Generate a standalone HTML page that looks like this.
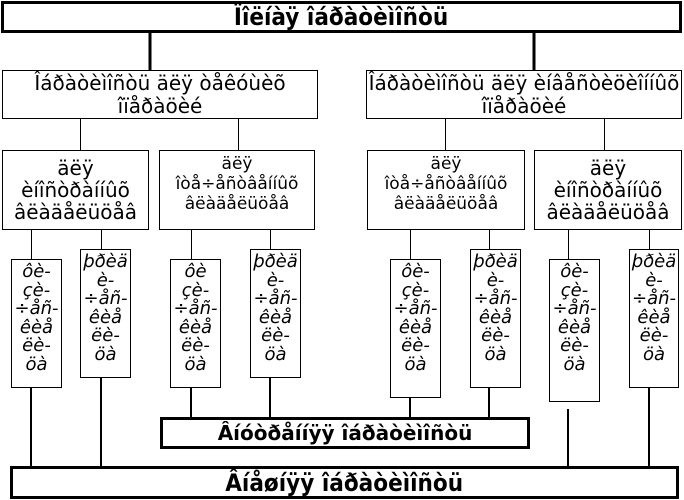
<!DOCTYPE html>
<html><head><meta charset="utf-8"><style>
body{margin:0;width:684px;height:500px;background:#fff;position:relative;overflow:hidden;font-family:"DejaVu Sans","Liberation Sans",sans-serif;color:#000}
.b{position:absolute;box-sizing:border-box;border:1px solid #000;background:#fff;display:flex;flex-direction:column;align-items:center;justify-content:center;text-align:center;white-space:nowrap}
.t{position:absolute;box-sizing:border-box;border:1px solid #000;background:#fff;text-align:center;font-style:italic;font-size:18px;line-height:18.6px;padding-top:3px;white-space:nowrap}
.c{display:inline-block;transform:scaleX(0.9)}
svg{position:absolute;left:0;top:0}
</style></head><body>
<svg width="684" height="500" shape-rendering="crispEdges">
<g stroke="#000" fill="none">
<line x1="150" y1="32" x2="150" y2="70" stroke-width="3"/>
<line x1="534" y1="32" x2="534" y2="70" stroke-width="3"/>
<line x1="80.5" y1="118" x2="80.5" y2="150"/>
<line x1="238.5" y1="118" x2="238.5" y2="150"/>
<line x1="445.5" y1="118" x2="445.5" y2="150"/>
<line x1="604.5" y1="118" x2="604.5" y2="150"/>
<line x1="31.5" y1="228" x2="31.5" y2="259"/>
<line x1="101.5" y1="228" x2="101.5" y2="249"/>
<line x1="191.5" y1="228" x2="191.5" y2="259"/>
<line x1="270.5" y1="228" x2="270.5" y2="249"/>
<line x1="410.5" y1="228" x2="410.5" y2="259"/>
<line x1="489.5" y1="228" x2="489.5" y2="249"/>
<line x1="568.5" y1="228" x2="568.5" y2="259"/>
<line x1="649.5" y1="228" x2="649.5" y2="249"/>
<g stroke-width="2">
<line x1="31" y1="387" x2="31" y2="467"/>
<line x1="101" y1="377" x2="101" y2="467"/>
<line x1="191" y1="387" x2="191" y2="418"/>
<line x1="270" y1="377" x2="270" y2="418"/>
<line x1="410" y1="397" x2="410" y2="418"/>
<line x1="489" y1="387" x2="489" y2="418"/>
<line x1="568" y1="409" x2="568" y2="467"/>
<line x1="649" y1="387" x2="649" y2="467"/>
</g></g></svg>
<div class="b" style="left:1px;top:1px;width:681px;height:32px;border-width:3px;font-weight:bold;font-size:24px"><span class="c">Ïîëíàÿ îáðàòèìîñòü</span></div>
<div class="b" style="left:2px;top:70px;width:316px;height:49px;font-size:20px;line-height:23px">Îáðàòèìîñòü äëÿ òåêóùèõ<br>îïåðàöèé</div>
<div class="b" style="left:366px;top:70px;width:316px;height:49px;font-size:20px;line-height:23px">Îáðàòèìîñòü äëÿ èíâåñòèöèîííûõ<br>îïåðàöèé</div>
<div class="b" style="left:2px;top:150px;width:147px;height:80px;font-size:20px;line-height:22px">äëÿ<br>èíîñòðàííûõ<br>âëàäåëüöåâ</div>
<div class="b" style="left:159px;top:150px;width:156px;height:80px;font-size:17px;line-height:20px;justify-content:flex-start;padding-top:3px">äëÿ<br>îòå÷åñòâåííûõ<br>âëàäåëüöåâ</div>
<div class="b" style="left:367px;top:150px;width:158px;height:80px;font-size:17px;line-height:20px;justify-content:flex-start;padding-top:3px">äëÿ<br>îòå÷åñòâåííûõ<br>âëàäåëüöåâ</div>
<div class="b" style="left:534px;top:150px;width:148px;height:80px;font-size:20px;line-height:22px">äëÿ<br>èíîñòðàííûõ<br>âëàäåëüöåâ</div>
<div class="t" style="left:11px;top:259px;width:51px;height:129px">ôè-<br>çè-<br>÷åñ-<br>êèå<br>ëè-<br>öà</div>
<div class="t" style="left:80px;top:249px;width:51px;height:129px">þðèä<br>è-<br>÷åñ-<br>êèå<br>ëè-<br>öà</div>
<div class="t" style="left:170px;top:259px;width:51px;height:129px">ôè<br>çè-<br>÷åñ-<br>êèå<br>ëè-<br>öà</div>
<div class="t" style="left:250px;top:249px;width:51px;height:129px">þðèä<br>è-<br>÷åñ-<br>êèå<br>ëè-<br>öà</div>
<div class="t" style="left:390px;top:259px;width:51px;height:139px">ôè-<br>çè-<br>÷åñ-<br>êèå<br>ëè-<br>öà</div>
<div class="t" style="left:470px;top:249px;width:51px;height:139px">þðèä<br>è-<br>÷åñ-<br>êèå<br>ëè-<br>öà</div>
<div class="t" style="left:549px;top:259px;width:51px;height:143px">ôè-<br>çè-<br>÷åñ-<br>êèå<br>ëè-<br>öà</div>
<div class="t" style="left:629px;top:249px;width:50px;height:139px">þðèä<br>è-<br>÷åñ-<br>êèå<br>ëè-<br>öà</div>
<div class="b" style="left:160px;top:417px;width:370px;height:32px;border-width:3px;font-weight:bold;font-size:20px">Âíóòðåííÿÿ îáðàòèìîñòü</div>
<div class="b" style="left:10px;top:466px;width:669px;height:33px;border-width:3px;font-weight:bold;font-size:24px"><span class="c">Âíåøíÿÿ îáðàòèìîñòü</span></div>
</body></html>
